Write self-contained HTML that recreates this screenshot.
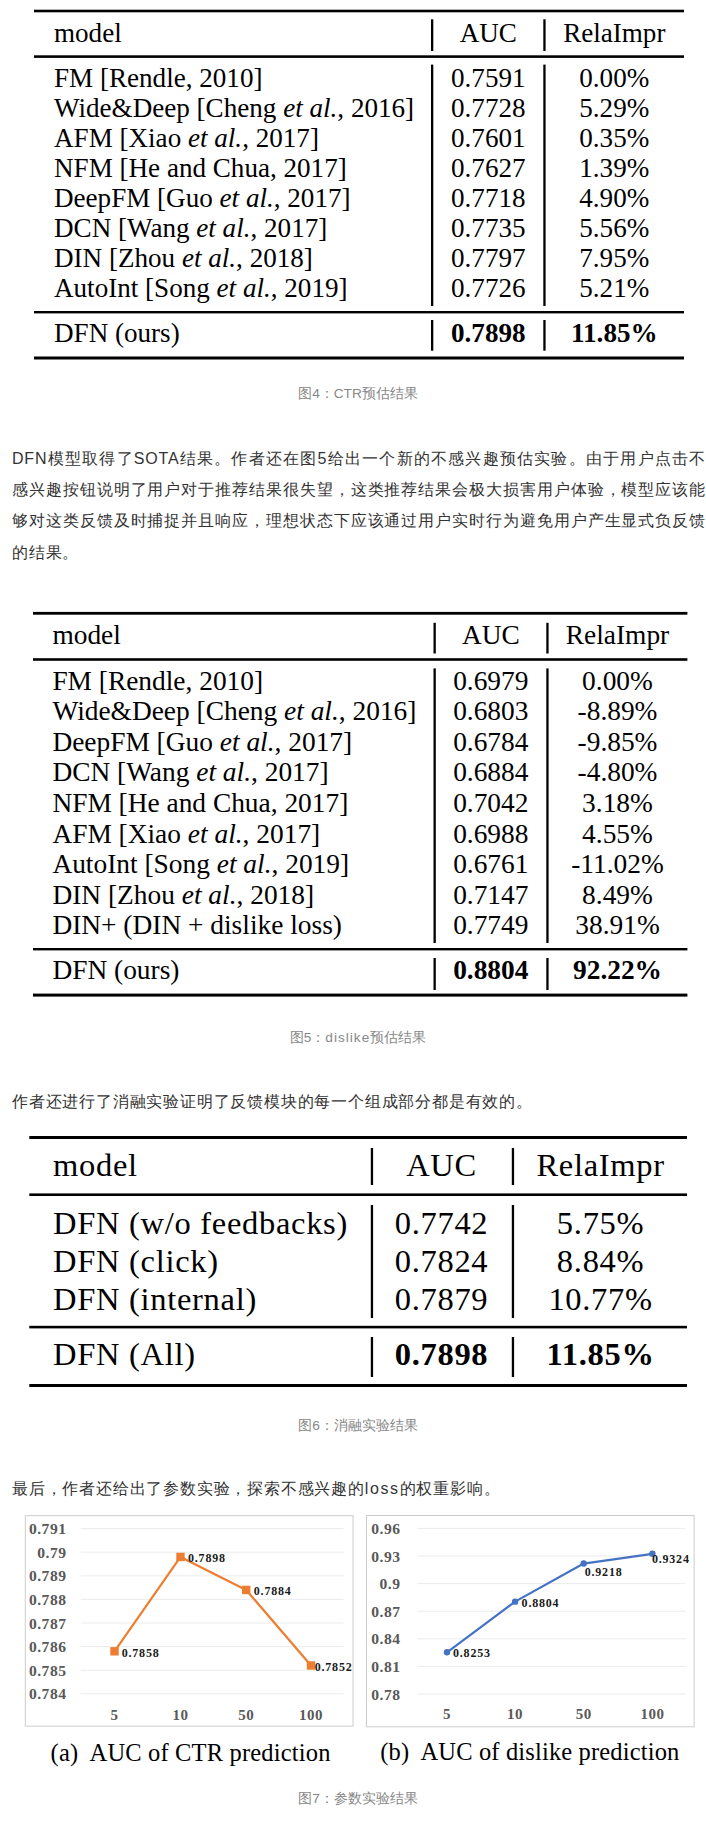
<!DOCTYPE html>
<html><head><meta charset="utf-8"><title>DFN results</title>
<style>
html,body{margin:0;padding:0;background:#fff;}
body{width:706px;height:1822px;position:relative;overflow:hidden;font-family:"Liberation Sans",sans-serif;}
.p{position:absolute;left:12px;white-space:nowrap;font-size:16px;line-height:31.2px;height:31.2px;color:#333;letter-spacing:0.8px;}
.j{width:694px;text-align:justify;text-align-last:justify;}
.cap{position:absolute;left:12px;width:692px;text-align:center;white-space:nowrap;font-size:13.7px;line-height:20px;height:20px;color:#888;}
</style></head><body>
<svg width="706" height="1822" viewBox="0 0 706 1822" style="position:absolute;left:0;top:0" font-family="Liberation Serif, serif"><rect x="34" y="9.7" width="650" height="2.6" fill="#000"/><rect x="34" y="55.3" width="650" height="2.6" fill="#000"/><rect x="34" y="311" width="650" height="2.4" fill="#000"/><rect x="34" y="356.5" width="650" height="3" fill="#000"/><rect x="431" y="19.3" width="2.3" height="31.7" fill="#000"/><rect x="431" y="64.6" width="2.3" height="241.4" fill="#000"/><rect x="431" y="320" width="2.3" height="30.69999999999999" fill="#000"/><rect x="543.3" y="19.3" width="2.3" height="31.7" fill="#000"/><rect x="543.3" y="64.6" width="2.3" height="241.4" fill="#000"/><rect x="543.3" y="320" width="2.3" height="30.69999999999999" fill="#000"/><text x="54" y="41.6" font-size="27.1" fill="#000">model</text><text x="488.3" y="41.6" font-size="27.1" text-anchor="middle" fill="#000">AUC</text><text x="614.3" y="41.6" font-size="27.1" text-anchor="middle" fill="#000">RelaImpr</text><text x="54" y="86.7" font-size="27.1" fill="#000">FM [Rendle, 2010]</text><text x="488.3" y="86.7" font-size="27.1" text-anchor="middle" fill="#000">0.7591</text><text x="614.3" y="86.7" font-size="27.1" text-anchor="middle" fill="#000">0.00%</text><text x="54" y="116.7" font-size="27.1" fill="#000">Wide&amp;Deep [Cheng <tspan font-style="italic">et al.</tspan>, 2016]</text><text x="488.3" y="116.7" font-size="27.1" text-anchor="middle" fill="#000">0.7728</text><text x="614.3" y="116.7" font-size="27.1" text-anchor="middle" fill="#000">5.29%</text><text x="54" y="146.7" font-size="27.1" fill="#000">AFM [Xiao <tspan font-style="italic">et al.</tspan>, 2017]</text><text x="488.3" y="146.7" font-size="27.1" text-anchor="middle" fill="#000">0.7601</text><text x="614.3" y="146.7" font-size="27.1" text-anchor="middle" fill="#000">0.35%</text><text x="54" y="176.7" font-size="27.1" fill="#000">NFM [He and Chua, 2017]</text><text x="488.3" y="176.7" font-size="27.1" text-anchor="middle" fill="#000">0.7627</text><text x="614.3" y="176.7" font-size="27.1" text-anchor="middle" fill="#000">1.39%</text><text x="54" y="206.7" font-size="27.1" fill="#000">DeepFM [Guo <tspan font-style="italic">et al.</tspan>, 2017]</text><text x="488.3" y="206.7" font-size="27.1" text-anchor="middle" fill="#000">0.7718</text><text x="614.3" y="206.7" font-size="27.1" text-anchor="middle" fill="#000">4.90%</text><text x="54" y="236.7" font-size="27.1" fill="#000">DCN [Wang <tspan font-style="italic">et al.</tspan>, 2017]</text><text x="488.3" y="236.7" font-size="27.1" text-anchor="middle" fill="#000">0.7735</text><text x="614.3" y="236.7" font-size="27.1" text-anchor="middle" fill="#000">5.56%</text><text x="54" y="266.7" font-size="27.1" fill="#000">DIN [Zhou <tspan font-style="italic">et al.</tspan>, 2018]</text><text x="488.3" y="266.7" font-size="27.1" text-anchor="middle" fill="#000">0.7797</text><text x="614.3" y="266.7" font-size="27.1" text-anchor="middle" fill="#000">7.95%</text><text x="54" y="296.7" font-size="27.1" fill="#000">AutoInt [Song <tspan font-style="italic">et al.</tspan>, 2019]</text><text x="488.3" y="296.7" font-size="27.1" text-anchor="middle" fill="#000">0.7726</text><text x="614.3" y="296.7" font-size="27.1" text-anchor="middle" fill="#000">5.21%</text><text x="54" y="342.3" font-size="27.1" fill="#000">DFN (ours)</text><text x="488.3" y="342.3" font-size="27.1" text-anchor="middle" font-weight="bold" fill="#000">0.7898</text><text x="614.3" y="342.3" font-size="27.1" text-anchor="middle" font-weight="bold" fill="#000">11.85%</text><rect x="33" y="611.9" width="654.4" height="2.8" fill="#000"/><rect x="33" y="658.2" width="654.4" height="2.6" fill="#000"/><rect x="33" y="948" width="654.4" height="2.4" fill="#000"/><rect x="33" y="993.6" width="654.4" height="3" fill="#000"/><rect x="433.5" y="622.8" width="2.3" height="30.700000000000045" fill="#000"/><rect x="433.5" y="668.4" width="2.3" height="274.6" fill="#000"/><rect x="433.5" y="958" width="2.3" height="32" fill="#000"/><rect x="546.3" y="622.8" width="2.3" height="30.700000000000045" fill="#000"/><rect x="546.3" y="668.4" width="2.3" height="274.6" fill="#000"/><rect x="546.3" y="958" width="2.3" height="32" fill="#000"/><text x="52.4" y="644.3" font-size="27.4" fill="#000">model</text><text x="490.8" y="644.3" font-size="27.4" text-anchor="middle" fill="#000">AUC</text><text x="617.5" y="644.3" font-size="27.4" text-anchor="middle" fill="#000">RelaImpr</text><text x="52.4" y="689.6" font-size="27.4" fill="#000">FM [Rendle, 2010]</text><text x="490.8" y="689.6" font-size="27.4" text-anchor="middle" fill="#000">0.6979</text><text x="617.5" y="689.6" font-size="27.4" text-anchor="middle" fill="#000">0.00%</text><text x="52.4" y="720.2" font-size="27.4" fill="#000">Wide&amp;Deep [Cheng <tspan font-style="italic">et al.</tspan>, 2016]</text><text x="490.8" y="720.2" font-size="27.4" text-anchor="middle" fill="#000">0.6803</text><text x="617.5" y="720.2" font-size="27.4" text-anchor="middle" fill="#000">-8.89%</text><text x="52.4" y="750.8" font-size="27.4" fill="#000">DeepFM [Guo <tspan font-style="italic">et al.</tspan>, 2017]</text><text x="490.8" y="750.8" font-size="27.4" text-anchor="middle" fill="#000">0.6784</text><text x="617.5" y="750.8" font-size="27.4" text-anchor="middle" fill="#000">-9.85%</text><text x="52.4" y="781.4" font-size="27.4" fill="#000">DCN [Wang <tspan font-style="italic">et al.</tspan>, 2017]</text><text x="490.8" y="781.4" font-size="27.4" text-anchor="middle" fill="#000">0.6884</text><text x="617.5" y="781.4" font-size="27.4" text-anchor="middle" fill="#000">-4.80%</text><text x="52.4" y="812.0" font-size="27.4" fill="#000">NFM [He and Chua, 2017]</text><text x="490.8" y="812.0" font-size="27.4" text-anchor="middle" fill="#000">0.7042</text><text x="617.5" y="812.0" font-size="27.4" text-anchor="middle" fill="#000">3.18%</text><text x="52.4" y="842.6" font-size="27.4" fill="#000">AFM [Xiao <tspan font-style="italic">et al.</tspan>, 2017]</text><text x="490.8" y="842.6" font-size="27.4" text-anchor="middle" fill="#000">0.6988</text><text x="617.5" y="842.6" font-size="27.4" text-anchor="middle" fill="#000">4.55%</text><text x="52.4" y="873.2" font-size="27.4" fill="#000">AutoInt [Song <tspan font-style="italic">et al.</tspan>, 2019]</text><text x="490.8" y="873.2" font-size="27.4" text-anchor="middle" fill="#000">0.6761</text><text x="617.5" y="873.2" font-size="27.4" text-anchor="middle" fill="#000">-11.02%</text><text x="52.4" y="903.8" font-size="27.4" fill="#000">DIN [Zhou <tspan font-style="italic">et al.</tspan>, 2018]</text><text x="490.8" y="903.8" font-size="27.4" text-anchor="middle" fill="#000">0.7147</text><text x="617.5" y="903.8" font-size="27.4" text-anchor="middle" fill="#000">8.49%</text><text x="52.4" y="934.4" font-size="27.4" fill="#000">DIN+ (DIN + dislike loss)</text><text x="490.8" y="934.4" font-size="27.4" text-anchor="middle" fill="#000">0.7749</text><text x="617.5" y="934.4" font-size="27.4" text-anchor="middle" fill="#000">38.91%</text><text x="52.4" y="979.3" font-size="27.4" fill="#000">DFN (ours)</text><text x="490.8" y="979.3" font-size="27.4" text-anchor="middle" font-weight="bold" fill="#000">0.8804</text><text x="617.5" y="979.3" font-size="27.4" text-anchor="middle" font-weight="bold" fill="#000">92.22%</text><rect x="29.3" y="1136" width="657.7" height="3" fill="#000"/><rect x="29.3" y="1193.4" width="657.7" height="2.6" fill="#000"/><rect x="29.3" y="1325.8" width="657.7" height="2.6" fill="#000"/><rect x="29.3" y="1384" width="657.7" height="3" fill="#000"/><rect x="370.8" y="1148" width="2.3" height="37" fill="#000"/><rect x="370.8" y="1205" width="2.3" height="113" fill="#000"/><rect x="370.8" y="1337" width="2.3" height="40" fill="#000"/><rect x="511.8" y="1148" width="2.3" height="37" fill="#000"/><rect x="511.8" y="1205" width="2.3" height="113" fill="#000"/><rect x="511.8" y="1337" width="2.3" height="40" fill="#000"/><text x="53.1" y="1176" font-size="32.5" letter-spacing="0.7" fill="#000">model</text><text x="441.5" y="1176" font-size="32.5" text-anchor="middle" letter-spacing="0.7" fill="#000">AUC</text><text x="600.6" y="1176" font-size="32.5" text-anchor="middle" letter-spacing="0.7" fill="#000">RelaImpr</text><text x="53.1" y="1234" font-size="32.5" letter-spacing="0.7" fill="#000">DFN (w/o feedbacks)</text><text x="441.5" y="1234" font-size="32.5" text-anchor="middle" letter-spacing="0.7" fill="#000">0.7742</text><text x="600.6" y="1234" font-size="32.5" text-anchor="middle" letter-spacing="0.7" fill="#000">5.75%</text><text x="53.1" y="1272" font-size="32.5" letter-spacing="0.7" fill="#000">DFN (click)</text><text x="441.5" y="1272" font-size="32.5" text-anchor="middle" letter-spacing="0.7" fill="#000">0.7824</text><text x="600.6" y="1272" font-size="32.5" text-anchor="middle" letter-spacing="0.7" fill="#000">8.84%</text><text x="53.1" y="1310" font-size="32.5" letter-spacing="0.7" fill="#000">DFN (internal)</text><text x="441.5" y="1310" font-size="32.5" text-anchor="middle" letter-spacing="0.7" fill="#000">0.7879</text><text x="600.6" y="1310" font-size="32.5" text-anchor="middle" letter-spacing="0.7" fill="#000">10.77%</text><text x="53.1" y="1364.5" font-size="32.5" letter-spacing="0.7" fill="#000">DFN (All)</text><text x="441.5" y="1364.5" font-size="32.5" text-anchor="middle" font-weight="bold" letter-spacing="0.7" fill="#000">0.7898</text><text x="600.6" y="1364.5" font-size="32.5" text-anchor="middle" font-weight="bold" letter-spacing="0.7" fill="#000">11.85%</text><rect x="25.3" y="1515.7" width="327.7" height="210.39999999999986" fill="#fff" stroke="#cccccc" stroke-width="1"/><rect x="80.7" y="1528.1" width="262.8" height="1" fill="#ebebeb"/><rect x="80.7" y="1551.7" width="262.8" height="1" fill="#ebebeb"/><rect x="80.7" y="1575.3" width="262.8" height="1" fill="#ebebeb"/><rect x="80.7" y="1598.9" width="262.8" height="1" fill="#ebebeb"/><rect x="80.7" y="1622.5" width="262.8" height="1" fill="#ebebeb"/><rect x="80.7" y="1646.1" width="262.8" height="1" fill="#ebebeb"/><rect x="80.7" y="1669.7" width="262.8" height="1" fill="#ebebeb"/><rect x="80.7" y="1693.3" width="262.8" height="1" fill="#ebebeb"/><text x="66.5" y="1534.1" font-size="15.6" text-anchor="end" font-weight="bold" letter-spacing="0.5" fill="#595959">0.791</text><text x="66.5" y="1557.7" font-size="15.6" text-anchor="end" font-weight="bold" letter-spacing="0.5" fill="#595959">0.79</text><text x="66.5" y="1581.3" font-size="15.6" text-anchor="end" font-weight="bold" letter-spacing="0.5" fill="#595959">0.789</text><text x="66.5" y="1604.9" font-size="15.6" text-anchor="end" font-weight="bold" letter-spacing="0.5" fill="#595959">0.788</text><text x="66.5" y="1628.5" font-size="15.6" text-anchor="end" font-weight="bold" letter-spacing="0.5" fill="#595959">0.787</text><text x="66.5" y="1652.1" font-size="15.6" text-anchor="end" font-weight="bold" letter-spacing="0.5" fill="#595959">0.786</text><text x="66.5" y="1675.7" font-size="15.6" text-anchor="end" font-weight="bold" letter-spacing="0.5" fill="#595959">0.785</text><text x="66.5" y="1699.3" font-size="15.6" text-anchor="end" font-weight="bold" letter-spacing="0.5" fill="#595959">0.784</text><text x="114.5" y="1719.5" font-size="15" text-anchor="middle" font-weight="bold" letter-spacing="0.5" fill="#595959">5</text><text x="180.5" y="1719.5" font-size="15" text-anchor="middle" font-weight="bold" letter-spacing="0.5" fill="#595959">10</text><text x="246.2" y="1719.5" font-size="15" text-anchor="middle" font-weight="bold" letter-spacing="0.5" fill="#595959">50</text><text x="311" y="1719.5" font-size="15" text-anchor="middle" font-weight="bold" letter-spacing="0.5" fill="#595959">100</text><path d="M114.5,1651.32 L180.5,1556.92 L246.2,1589.96 L311,1665.48" fill="none" stroke="#ED7D31" stroke-width="2.2" stroke-linejoin="round"/><rect x="110.3" y="1647.12" width="8.4" height="8.4" fill="#ED7D31"/><rect x="176.3" y="1552.72" width="8.4" height="8.4" fill="#ED7D31"/><rect x="242.0" y="1585.76" width="8.4" height="8.4" fill="#ED7D31"/><rect x="306.8" y="1661.28" width="8.4" height="8.4" fill="#ED7D31"/><text x="121.7" y="1656.7" font-size="12" font-weight="bold" letter-spacing="0.8" fill="#1a1a1a">0.7858</text><text x="188" y="1561.7" font-size="12" font-weight="bold" letter-spacing="0.8" fill="#1a1a1a">0.7898</text><text x="253.8" y="1594.9" font-size="12" font-weight="bold" letter-spacing="0.8" fill="#1a1a1a">0.7884</text><text x="314.7" y="1671.3" font-size="12" font-weight="bold" letter-spacing="0.8" fill="#1a1a1a">0.7852</text><rect x="366.5" y="1515.5" width="327.6" height="211.29999999999995" fill="#fff" stroke="#cccccc" stroke-width="1"/><rect x="417.2" y="1527.9" width="268.50000000000006" height="1" fill="#ebebeb"/><rect x="417.2" y="1555.5" width="268.50000000000006" height="1" fill="#ebebeb"/><rect x="417.2" y="1583.1" width="268.50000000000006" height="1" fill="#ebebeb"/><rect x="417.2" y="1610.7" width="268.50000000000006" height="1" fill="#ebebeb"/><rect x="417.2" y="1638.3" width="268.50000000000006" height="1" fill="#ebebeb"/><rect x="417.2" y="1665.9" width="268.50000000000006" height="1" fill="#ebebeb"/><rect x="417.2" y="1693.5" width="268.50000000000006" height="1" fill="#ebebeb"/><text x="400.5" y="1533.9" font-size="15.6" text-anchor="end" font-weight="bold" letter-spacing="0.5" fill="#595959">0.96</text><text x="400.5" y="1561.5" font-size="15.6" text-anchor="end" font-weight="bold" letter-spacing="0.5" fill="#595959">0.93</text><text x="400.5" y="1589.1" font-size="15.6" text-anchor="end" font-weight="bold" letter-spacing="0.5" fill="#595959">0.9</text><text x="400.5" y="1616.7" font-size="15.6" text-anchor="end" font-weight="bold" letter-spacing="0.5" fill="#595959">0.87</text><text x="400.5" y="1644.3" font-size="15.6" text-anchor="end" font-weight="bold" letter-spacing="0.5" fill="#595959">0.84</text><text x="400.5" y="1671.9" font-size="15.6" text-anchor="end" font-weight="bold" letter-spacing="0.5" fill="#595959">0.81</text><text x="400.5" y="1699.5" font-size="15.6" text-anchor="end" font-weight="bold" letter-spacing="0.5" fill="#595959">0.78</text><text x="447" y="1718.8" font-size="15" text-anchor="middle" font-weight="bold" letter-spacing="0.5" fill="#595959">5</text><text x="515.1" y="1718.8" font-size="15" text-anchor="middle" font-weight="bold" letter-spacing="0.5" fill="#595959">10</text><text x="583.7" y="1718.8" font-size="15" text-anchor="middle" font-weight="bold" letter-spacing="0.5" fill="#595959">50</text><text x="652.4" y="1718.8" font-size="15" text-anchor="middle" font-weight="bold" letter-spacing="0.5" fill="#595959">100</text><path d="M447,1652.32 L515.1,1601.63 L583.7,1563.54 L652.4,1553.79" fill="none" stroke="#4472C4" stroke-width="2.2" stroke-linejoin="round"/><circle cx="447" cy="1652.32" r="3.2" fill="#4472C4"/><circle cx="515.1" cy="1601.63" r="3.2" fill="#4472C4"/><circle cx="583.7" cy="1563.54" r="3.2" fill="#4472C4"/><circle cx="652.4" cy="1553.79" r="3.2" fill="#4472C4"/><text x="453" y="1656.7" font-size="12" font-weight="bold" letter-spacing="0.8" fill="#1a1a1a">0.8253</text><text x="521.6" y="1607" font-size="12" font-weight="bold" letter-spacing="0.8" fill="#1a1a1a">0.8804</text><text x="584.7" y="1575.6" font-size="12" font-weight="bold" letter-spacing="0.8" fill="#1a1a1a">0.9218</text><text x="651.9" y="1563.2" font-size="12" font-weight="bold" letter-spacing="0.8" fill="#1a1a1a">0.9324</text><text x="50.6" y="1760.6" font-size="24.5" letter-spacing="0.17" fill="#000">(a)&#160; AUC of CTR prediction</text><text x="380.3" y="1760" font-size="24.5" letter-spacing="0.15" fill="#000">(b)&#160; AUC of dislike prediction</text></svg>
<div class="p j" style="top:443.0px">DFN模型取得了SOTA结果。作者还在图5给出一个新的不感兴趣预估实验。由于用户点击不</div><div class="p j" style="top:474.2px">感兴趣按钮说明了用户对于推荐结果很失望，这类推荐结果会极大损害用户体验，模型应该能</div><div class="p j" style="top:505.3px">够对这类反馈及时捕捉并且响应，理想状态下应该通过用户实时行为避免用户产生显式负反馈</div><div class="p" style="top:536.7px">的结果。</div><div class="p" style="top:1086.2px">作者还进行了消融实验证明了反馈模块的每一个组成部分都是有效的。</div><div class="p" style="top:1473.2px">最后，作者还给出了参数实验，探索不感兴趣的<span style="letter-spacing:1.6px">loss</span>的权重影响。</div><div class="cap" style="top:384px">图4：CTR预估结果</div><div class="cap" style="top:1027.9px">图5：<span style="letter-spacing:1px">dislike</span>预估结果</div><div class="cap" style="top:1416.2px">图6：消融实验结果</div><div class="cap" style="top:1788.6px">图7：参数实验结果</div>
</body></html>
